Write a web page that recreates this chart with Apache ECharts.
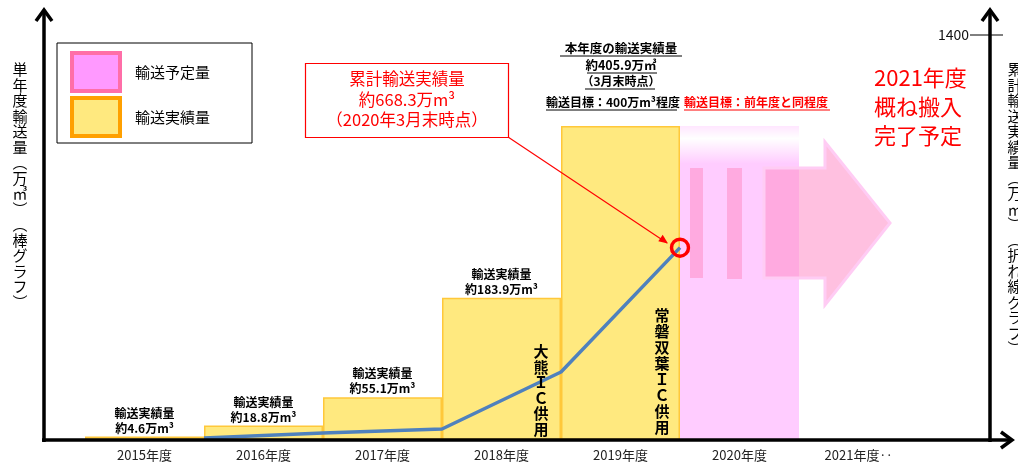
<!DOCTYPE html>
<html><head><meta charset="utf-8">
<script src="https://cdn.jsdelivr.net/npm/echarts@6/dist/echarts.min.js"></script>
<style>html,body{margin:0;padding:0;background:#fff}#c{width:1018px;height:464px}</style>
</head><body><div id="c"></div>
<script>
const categories = ['2015年度','2016年度','2017年度','2018年度','2019年度','2020年度','2021年度‥'];
const actualValues = [4.6, 18.8, 55.1, 183.9, 405.9, '-', '-'];
const plannedValues = ['-', '-', '-', '-', '-', 405.9, '-'];
const boundaries = ['b0','b1','b2','b3','b4','b5','b6','b7'];
const cumulativeValues = ['-', 7, 24, 38, 235, 665, '-', '-'];
const rightTicks = [1400];

const FONT = '"Noto Sans CJK JP", "Noto Sans", sans-serif';
const chart = echarts.init(document.getElementById('c'), null, {renderer: 'canvas'});

const barData = actualValues.map((v, i) => (i === 4 ? {value: v, label: {show: false}} : v));
const lineData = cumulativeValues.map((v, i) => (i === 5 ? {
  value: v, symbol: 'circle', symbolSize: 17,
  itemStyle: {color: 'rgba(255,255,255,0)', borderColor: '#FF0000', borderWidth: 3.5}
} : v));

function txt(x, y, text, opt) {
  return Object.assign({type: 'text', x: x, y: y, z: 100, style: Object.assign({
    text: text, font: 'bold 12px ' + FONT, fill: '#000', align: 'center', verticalAlign: 'middle', legacy: false
  }, opt || {})});
}
function ln(x1, y1, x2, y2, color, w) {
  return {type: 'line', z: 100, shape: {x1: x1, y1: y1, x2: x2, y2: y2}, style: {stroke: color, lineWidth: w}};
}

const leftName = ['単','年','度','輸','送','量','︵','万','㎥','︶','︵','棒','グ','ラ','フ','︶'].join('\n');
const rightName = ['累','計','輸','送','実','績','量','︵','万','㎥','︶','︵','折','れ','線','グ','ラ','フ','︶'].join('\n');

const graphics = [
  // axis lines with open arrows
  ln(44, 442, 44, 10, '#000', 3.5),
  {type: 'polyline', z: 100, shape: {points: [[36, 21], [44, 10], [52, 21]]}, style: {stroke: '#000', lineWidth: 3.5, fill: null}},
  ln(990, 442, 990, 10, '#000', 3.5),
  {type: 'polyline', z: 100, shape: {points: [[982, 21], [990, 10], [998, 21]]}, style: {stroke: '#000', lineWidth: 3.5, fill: null}},
  ln(42, 440, 1012, 440, '#000', 3.5),
  {type: 'polyline', z: 100, shape: {points: [[1001, 432], [1012, 440], [1001, 448]]}, style: {stroke: '#000', lineWidth: 3.5, fill: null}},
  ln(970, 35, 1003, 35, '#000', 1),
  // axis names
  txt(20, 62, leftName, {font: '15px ' + FONT, lineHeight: 15.5, verticalAlign: 'top'}),
  txt(1015, 62, rightName, {font: '15px ' + FONT, lineHeight: 15.5, verticalAlign: 'top'}),
  // planned arrow
  {type: 'polygon', z: 50, shape: {points: [[764, 168], [825, 168], [825, 142], [890, 223], [825, 305], [825, 278], [764, 278]]},
    style: {fill: 'rgba(255,144,200,0.57)', stroke: '#FFCCF4', lineWidth: 3}},
  {type: 'rect', z: 50, shape: {x: 690, y: 168, width: 13, height: 110}, style: {fill: 'rgba(255,144,200,0.57)'}},
  {type: 'rect', z: 50, shape: {x: 727, y: 168, width: 15, height: 111}, style: {fill: 'rgba(255,144,200,0.57)'}},
  // vertical IC texts
  txt(541, 344, ['大','熊','Ｉ','Ｃ','供','用'].join('\n'), {font: 'bold 15px ' + FONT, lineHeight: 15.5, verticalAlign: 'top'}),
  txt(662, 307, ['常','磐','双','葉','Ｉ','Ｃ','供','用'].join('\n'), {font: 'bold 15px ' + FONT, lineHeight: 16, verticalAlign: 'top'}),
  // 2019 annotation
  txt(621, 48, '本年度の輸送実績量', {font: 'bold 12.5px ' + FONT}),
  txt(621, 65, '約405.9万㎥', {font: 'bold 12.5px ' + FONT}),
  txt(621, 81, '（3月末時点）', {font: 'bold 12px ' + FONT}),
  ln(560, 56, 682, 56, '#000', 1),
  ln(587, 73, 657, 73, '#000', 1),
  ln(585, 89, 655, 89, '#000', 1),
  txt(546, 102, '輸送目標：400万m³程度', {font: 'bold 12px ' + FONT, align: 'left'}),
  ln(546, 110, 677, 110, '#000', 1),
  txt(684, 102, '輸送目標：前年度と同程度', {font: 'bold 12px ' + FONT, align: 'left', fill: '#FF0000'}),
  ln(684, 110, 830, 110, '#FF0000', 1),
  // callout
  {type: 'rect', z: 100, shape: {x: 305.5, y: 63.5, width: 203, height: 74}, style: {fill: '#fff', stroke: '#FF0000', lineWidth: 1.2}},
  txt(407, 79, '累計輸送実績量', {font: '16.5px ' + FONT, fill: '#FF0000'}),
  txt(407, 100, '約668.3万m³', {font: '16.5px ' + FONT, fill: '#FF0000'}),
  txt(407, 120, '（2020年3月末時点）', {font: '16.5px ' + FONT, fill: '#FF0000'}),
  ln(508, 137, 667, 243, '#FF0000', 1.2),
  {type: 'polygon', z: 100, shape: {points: [[668, 243.5], [658.3, 241.3], [662.7, 234.7]]}, style: {fill: '#FF0000'}},
  // red note
  txt(874, 63, '2021年度\n概ね搬入\n完了予定', {font: '22px ' + FONT, fill: '#FF0000', align: 'left', verticalAlign: 'top', lineHeight: 29}),
  // right tick label
  txt(969, 35, String(rightTicks[0]), {font: '14px ' + FONT, fill: '#111', align: 'right'})
];

const option = {
  animation: false,
  backgroundColor: '#fff',
  textStyle: {fontFamily: FONT},
  grid: {left: 85, right: 100, top: 35, bottom: 24, containLabel: false},
  legend: {
    orient: 'vertical', left: 57, top: 43,
    itemWidth: 48, itemHeight: 38, itemGap: 3, icon: 'rect',
    padding: [8, 42, 5, 13],
    backgroundColor: '#fff', borderColor: '#000', borderWidth: 1,
    textStyle: {fontSize: 15, color: '#000', fontFamily: FONT, padding: [0, 0, 0, 10]},
    selectedMode: false,
    data: [
      {name: '輸送予定量', itemStyle: {color: '#FF99FF', borderColor: '#FF6EA8', borderWidth: 4}},
      {name: '輸送実績量', itemStyle: {color: '#FFE97F', borderColor: '#FFA000', borderWidth: 4}}
    ]
  },
  xAxis: [
    {type: 'category', data: categories, boundaryGap: true,
      axisLine: {show: false}, axisTick: {show: false},
      axisLabel: {fontSize: 13, color: '#222', margin: 9, fontFamily: FONT}},
    {type: 'category', data: boundaries, boundaryGap: false, show: false}
  ],
  yAxis: [
    {type: 'value', min: 0, max: 523.5, show: false, splitLine: {show: false}},
    {type: 'value', min: 0, max: 1400, interval: 1400, position: 'right', offset: 72,
      axisLine: {show: false}, axisTick: {show: false}, splitLine: {show: false},
      axisLabel: {show: false}}
  ],
  series: [
    {name: '輸送実績量', type: 'bar', stack: 'b', barCategoryGap: '0%', xAxisIndex: 0, yAxisIndex: 0,
      data: barData,
      itemStyle: {color: '#FFE97F', borderColor: '#FFC83A', borderWidth: 1.5},
      label: {show: true, position: 'top', distance: 1, color: '#000', fontWeight: 'bold', fontSize: 12,
        lineHeight: 15, fontFamily: FONT,
        formatter: p => '輸送実績量\n約' + p.value + '万m³'}},
    {name: '輸送予定量', type: 'bar', stack: 'b', barCategoryGap: '0%', xAxisIndex: 0, yAxisIndex: 0,
      data: plannedValues,
      itemStyle: {color: {type: 'linear', x: 0, y: 0, x2: 0, y2: 1, colorStops: [
        {offset: 0, color: '#FFE6FF'}, {offset: 0.04, color: '#FFFFFF'}, {offset: 0.12, color: '#FFCCFF'}, {offset: 1, color: '#FFCCFF'}]}}},
    {name: '累計', type: 'line', xAxisIndex: 1, yAxisIndex: 1, data: lineData, symbol: 'none',
      lineStyle: {color: '#4F81BD', width: 3.5}, z: 5}
  ],
  graphic: graphics
};
chart.setOption(option);
</script></body></html>
